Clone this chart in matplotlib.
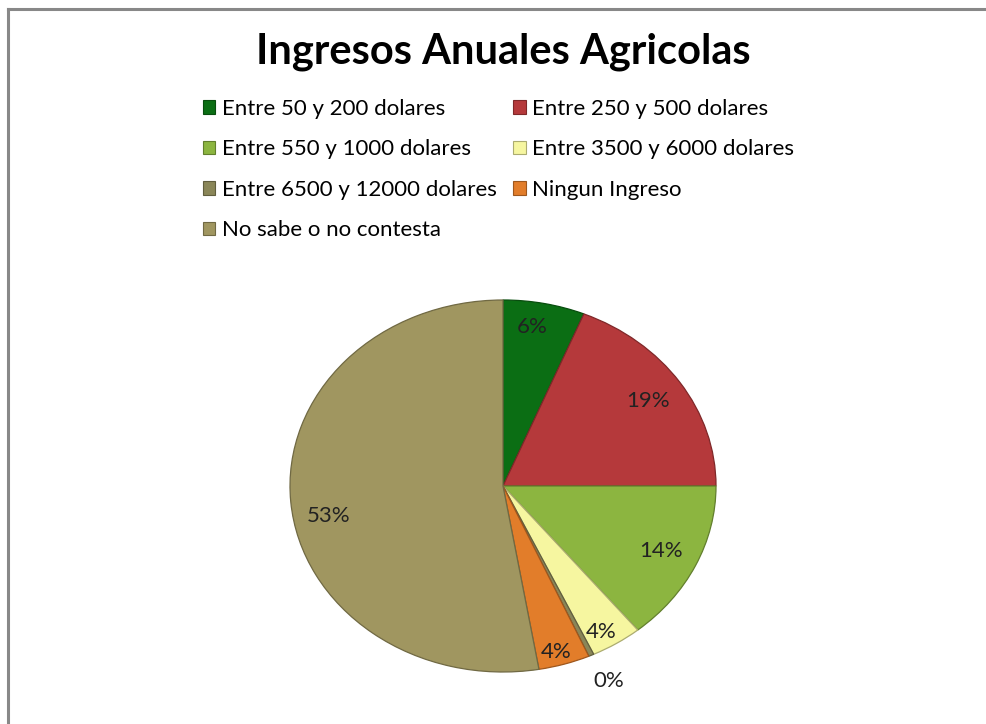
import matplotlib.pyplot as plt
import matplotlib.colors as mcolors
from matplotlib.lines import Line2D
import numpy as np

plt.rcParams['font.family'] = ['Lato', 'DejaVu Sans']

# datos del grafico
categorias = ['Entre 50 y 200 dolares', 'Entre 250 y 500 dolares',
              'Entre 550 y 1000 dolares', 'Entre 3500 y 6000 dolares',
              'Entre 6500 y 12000 dolares', 'Ningun Ingreso',
              'No sabe o no contesta']
valores = [6.2, 18.8, 14.1, 3.9, 0.4, 3.9, 52.7]
colores = ['#0b6e14', '#b5393b', '#8cb540', '#f6f6a0',
           '#8a8658', '#e27d2a', '#a09660']


def oscurecer(c, f=0.7):
    r, g, b = mcolors.to_rgb(c)
    return (r * f, g * f, b * f)


fig = plt.figure(figsize=(9.86, 7.24), dpi=100)

# marco gris del grafico
fig.add_artist(Line2D([8 / 986, 1], [1 - 9 / 724] * 2, color='#888888', lw=2.2))
fig.add_artist(Line2D([8 / 986] * 2, [0, 1 - 9 / 724], color='#888888', lw=2.2))

fig.text(0.51, 1 - 52 / 724, 'Ingresos Anuales Agricolas', ha='center', va='center',
         fontsize=30, fontweight='bold')

ax = fig.add_axes([290 / 986, (724 - 672) / 724, 426 / 986, 372 / 724])
wedges, textos, autotextos = ax.pie(
    valores, colors=colores, startangle=90, counterclock=False,
    autopct='%.0f%%', pctdistance=0.82,
    textprops={'fontsize': 16, 'color': '#222222'})
ax.set_aspect('auto')
ax.set_xlim(-1, 1)
ax.set_ylim(-1, 1)

for w, c in zip(wedges, colores):
    w.set_edgecolor(oscurecer(c))
    w.set_linewidth(0.9)

# ajustes de las etiquetas
for w, t, v in zip(wedges, autotextos, valores):
    ang = np.deg2rad((w.theta1 + w.theta2) / 2)
    if v < 1:
        t.set_position((1.2 * np.cos(ang), 1.15 * np.sin(ang)))
    elif v < 5:
        t.set_position((0.86 * np.cos(ang), 0.93 * np.sin(ang)))
    elif v > 50:
        t.set_y(t.get_position()[1] - 0.09)
    elif v < 10:
        t.set_position((0.7 * np.cos(ang), 0.87 * np.sin(ang)))

# leyenda en orden por filas
orden = [0, 2, 4, 6, 1, 3, 5]
etiquetas = [categorias[i] for i in orden]
proxies = [plt.Rectangle((0, 0), 1, 1, facecolor=colores[i],
                         edgecolor=oscurecer(colores[i]), lw=0.8) for i in orden]
fig.legend(proxies, etiquetas, ncol=2, loc='upper left',
           bbox_to_anchor=(203 / 986, 1 - 99 / 724), frameon=False,
           fontsize=16, handlelength=0.55, handleheight=0.55,
           handletextpad=0.3, labelspacing=0.92, columnspacing=0.75,
           borderaxespad=0, borderpad=0)

fig.savefig('out.png', dpi=100, facecolor='white')
